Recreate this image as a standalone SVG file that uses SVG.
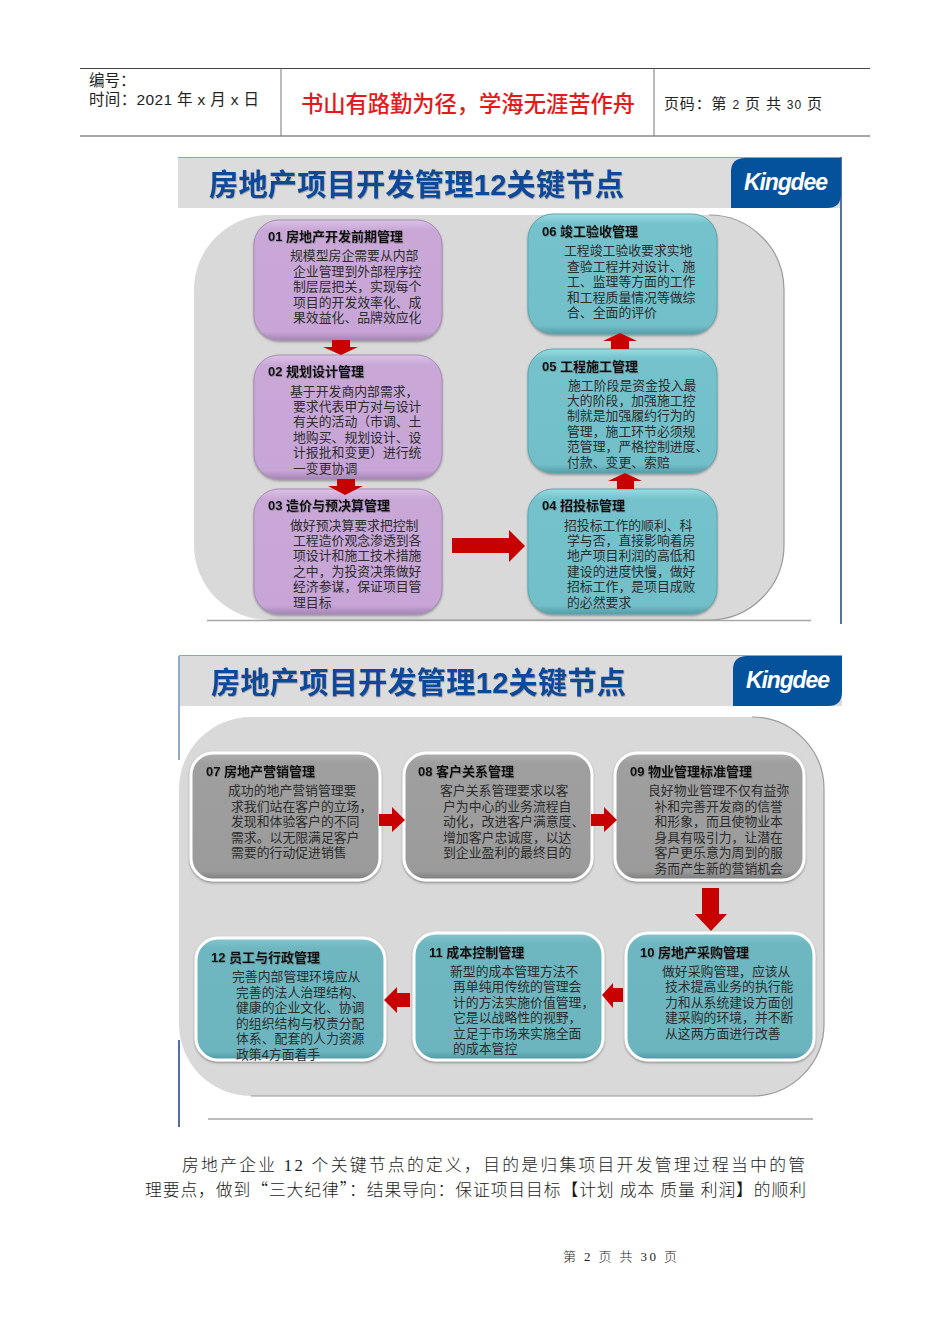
<svg xmlns="http://www.w3.org/2000/svg" width="950" height="1344" viewBox="0 0 950 1344">
<style>
text{font-family:"Liberation Sans","Noto Sans CJK SC",sans-serif}
.hd{font-size:15.5px;fill:#222}
.hd2{font-size:15px;fill:#222}
.motto{font-size:22.3px;fill:#e3191c;font-weight:500}
.title{font-size:29.2px;font-weight:700;fill:#0c4a98;filter:url(#ts)}
.kd{font-size:23px;font-weight:700;font-style:italic;fill:#fff}
.h{font-size:13px;font-weight:700;fill:#111;filter:url(#ts)}
.b{font-size:12.85px;fill:#2c2c2c}
.para{font-size:16.8px;fill:#1a1a1a;font-family:"Liberation Serif","Noto Sans CJK SC",serif;font-weight:300}
.cjk{font-family:"Noto Sans CJK SC",sans-serif}
.foot{font-size:13px;fill:#222;font-family:"Liberation Serif","Noto Sans CJK SC",serif;font-weight:300}
.band{fill:#dcdcdc}
.panel{fill:#d9d9d9}
.edge{fill:none;stroke:#9a9a9a;stroke-width:1.2}
.rule{stroke:#a6a6a6;stroke-width:1.5;fill:none}
.pur{fill:url(#gp);stroke:#a98cb6;stroke-width:1;filter:url(#sh)}
.tea{fill:url(#gt);stroke:#5ea6b0;stroke-width:1;filter:url(#sh)}
.gry{fill:url(#gg);stroke:#fff;stroke-width:3;filter:url(#sh)}
.tew{fill:url(#gw);stroke:#fff;stroke-width:3;filter:url(#sh)}
.arr{fill:#c70000}
</style>
<defs>
<linearGradient id="gp" x1="0" y1="0" x2="0" y2="1"><stop offset="0" stop-color="#dcc2e6"/><stop offset=".08" stop-color="#c9a8d8"/><stop offset=".93" stop-color="#c7a5d6"/><stop offset="1" stop-color="#a785b6"/></linearGradient>
<linearGradient id="gt" x1="0" y1="0" x2="0" y2="1"><stop offset="0" stop-color="#9adbe2"/><stop offset=".08" stop-color="#74c2cc"/><stop offset=".93" stop-color="#72bfc9"/><stop offset="1" stop-color="#559da8"/></linearGradient>
<linearGradient id="gg" x1="0" y1="0" x2="0" y2="1"><stop offset="0" stop-color="#b0b0b0"/><stop offset=".08" stop-color="#9f9f9f"/><stop offset=".93" stop-color="#9b9b9b"/><stop offset="1" stop-color="#7d7d7d"/></linearGradient>
<linearGradient id="gw" x1="0" y1="0" x2="0" y2="1"><stop offset="0" stop-color="#86c6ce"/><stop offset=".08" stop-color="#6eb7c1"/><stop offset=".93" stop-color="#6cb5bf"/><stop offset="1" stop-color="#4f97a2"/></linearGradient>
<filter id="sh" x="-5%" y="-5%" width="110%" height="112%"><feDropShadow dx="0" dy="1.5" stdDeviation="1.2" flood-color="#555" flood-opacity=".55"/></filter>
<filter id="ts" x="-3%" y="-10%" width="106%" height="125%"><feDropShadow dx=".6" dy=".8" stdDeviation=".6" flood-color="#444" flood-opacity=".45"/></filter>
</defs>

<g id="page-header">
<path d="M80 68.5H870" stroke="#444" stroke-width="1" fill="none"/>
<path d="M80 136H870" stroke="#888" stroke-width="1.6" fill="none"/>
<path d="M281 68.500V136M654 68.500V136" stroke="#777" stroke-width="1" fill="none"/>
<text class="hd" x="89" y="86">编号：</text>
<text class="hd" x="89" y="105" textLength="170">时间：2021 年 x 月 x 日</text>
<text class="motto" x="301" y="112" textLength="334">书山有路勤为径，学海无涯苦作舟</text>
<text class="hd2" x="664" y="109" textLength="158">页码：第 <tspan font-size="12">2</tspan> 页  共 <tspan font-size="12">30</tspan> 页</text>
</g>

<g id="slide-1-frame">
<rect class="band" x="178" y="157" width="663" height="51"/>
<path d="M178 157.500H841" stroke="#8ea3bd" stroke-width="1" fill="none"/>
<path d="M841 157V624" stroke="#5b7196" stroke-width="2" fill="none"/>
<rect class="panel" x="194" y="215" width="590" height="405" rx="75" ry="75"/>
<path class="edge" d="M709 215A75 75 0 0 1 784 290V545A75 75 0 0 1 709 620H269"/>
<path class="rule" d="M207 620.500H811"/>
<text class="title" x="209" y="195" textLength="415">房地产项目开发管理12关键节点</text>
<path d="M731 208V172Q731 158 745 158H841V194Q841 208 827 208Z" fill="#03529b"/>
<text class="kd" x="744" y="189.500" textLength="84">Kingdee</text>
</g>

<g id="slide-2-frame">
<rect class="band" x="179" y="656" width="663" height="50"/>
<path d="M179 655.500H842" stroke="#8ea3bd" stroke-width="1" fill="none"/>
<path d="M179 656V760" stroke="#8fa9d0" stroke-width="2" fill="none"/>
<path d="M179 1040V1127" stroke="#4f6fa5" stroke-width="2" fill="none"/>
<rect class="panel" x="179" y="717" width="645" height="379" rx="72" ry="72"/>
<path class="edge" d="M752 717A72 72 0 0 1 824 789V1024A72 72 0 0 1 752 1096H251"/>
<path class="rule" d="M208 1119H813"/>
<text class="title" x="211" y="693" textLength="415">房地产项目开发管理12关键节点</text>
<path d="M733 706V670Q733 656 747 656H842V692Q842 706 828 706Z" fill="#03529b"/>
<text class="kd" x="746" y="687.500" textLength="84">Kingdee</text>
</g>

<g id="node-01"><rect class="pur" x="254" y="220" width="188" height="120" rx="25"/>
<text class="h" x="268" y="241">01 房地产开发前期管理</text>
<text class="b"><tspan x="290" y="260">规模型房企需要从内部</tspan><tspan x="293" y="275.500">企业管理到外部程序控</tspan><tspan x="293" y="291">制层层把关，实现每个</tspan><tspan x="293" y="306.500">项目的开发效率化、成</tspan><tspan x="293" y="322">果效益化、品牌效应化</tspan></text></g>

<g id="node-02"><rect class="pur" x="254" y="355" width="188" height="124" rx="25"/>
<text class="h" x="268" y="376">02 规划设计管理</text>
<text class="b"><tspan x="290" y="395.500">基于开发商内部需求，</tspan><tspan x="293" y="410.500">要求代表甲方对与设计</tspan><tspan x="293" y="426">有关的活动（市调、土</tspan><tspan x="293" y="441.500">地购买、规划设计、设</tspan><tspan x="293" y="457">计报批和变更）进行统</tspan><tspan x="293" y="472.500">一变更协调</tspan></text></g>

<g id="node-03"><rect class="pur" x="254" y="489" width="188" height="125" rx="25"/>
<text class="h" x="268" y="510">03 造价与预决算管理</text>
<text class="b"><tspan x="290" y="529.500">做好预决算要求把控制</tspan><tspan x="293" y="544.500">工程造价观念渗透到各</tspan><tspan x="293" y="560">项设计和施工技术措施</tspan><tspan x="293" y="575.500">之中，为投资决策做好</tspan><tspan x="293" y="591">经济参谋，保证项目管</tspan><tspan x="293" y="606.500">理目标</tspan></text></g>

<g id="node-04"><rect class="tea" x="528" y="489" width="189" height="125" rx="25"/>
<text class="h" x="542" y="510">04 招投标管理</text>
<text class="b"><tspan x="564" y="529.500">招投标工作的顺利、科</tspan><tspan x="567" y="544.500">学与否，直接影响着房</tspan><tspan x="567" y="560">地产项目利润的高低和</tspan><tspan x="567" y="575.500">建设的进度快慢，做好</tspan><tspan x="567" y="591">招标工作，是项目成败</tspan><tspan x="567" y="606.500">的必然要求</tspan></text></g>

<g id="node-05"><rect class="tea" x="528" y="349" width="189" height="124" rx="25"/>
<text class="h" x="542" y="371">05 工程施工管理</text>
<text class="b"><tspan x="568" y="389.500">施工阶段是资金投入最</tspan><tspan x="567" y="404.500">大的阶段，加强施工控</tspan><tspan x="567" y="420">制就是加强履约行为的</tspan><tspan x="567" y="435.500">管理，施工环节必须规</tspan><tspan x="567" y="451">范管理，严格控制进度、</tspan><tspan x="567" y="466.500">付款、变更、索赔</tspan></text></g>

<g id="node-06"><rect class="tea" x="528" y="214" width="189" height="120" rx="25"/>
<text class="h" x="542" y="236">06 竣工验收管理</text>
<text class="b"><tspan x="564" y="255">工程竣工验收要求实地</tspan><tspan x="567" y="270.500">查验工程并对设计、施</tspan><tspan x="567" y="286">工、监理等方面的工作</tspan><tspan x="567" y="301.500">和工程质量情况等做综</tspan><tspan x="567" y="317">合、全面的评价</tspan></text></g>

<g id="node-07"><rect class="gry" x="191" y="753" width="189" height="127" rx="22"/>
<text class="h" x="206" y="776">07 房地产营销管理</text>
<text class="b"><tspan x="228" y="795">成功的地产营销管理要</tspan><tspan x="231" y="810.500">求我们站在客户的立场，</tspan><tspan x="231" y="826">发现和体验客户的不同</tspan><tspan x="231" y="841.500">需求。以无限满足客户</tspan><tspan x="231" y="857">需要的行动促进销售</tspan></text></g>

<g id="node-08"><rect class="gry" x="404" y="753" width="188" height="127" rx="22"/>
<text class="h" x="418" y="776">08 客户关系管理</text>
<text class="b"><tspan x="440" y="795">客户关系管理要求以客</tspan><tspan x="443" y="810.500">户为中心的业务流程自</tspan><tspan x="443" y="826">动化，改进客户满意度、</tspan><tspan x="443" y="841.500">增加客户忠诚度，以达</tspan><tspan x="443" y="857">到企业盈利的最终目的</tspan></text></g>

<g id="node-09"><rect class="gry" x="615" y="753" width="189" height="127" rx="22"/>
<text class="h" x="630" y="776">09 物业管理标准管理</text>
<text class="b"><tspan x="648" y="795">良好物业管理不仅有益弥</tspan><tspan x="654.500" y="810.500">补和完善开发商的信誉</tspan><tspan x="654.500" y="826">和形象，而且使物业本</tspan><tspan x="654.500" y="841.500">身具有吸引力，让潜在</tspan><tspan x="654.500" y="857">客户更乐意为周到的服</tspan><tspan x="654.500" y="872.500">务而产生新的营销机会</tspan></text></g>

<g id="node-10"><rect class="tew" x="626" y="933" width="188" height="127" rx="22"/>
<text class="h" x="640" y="956.500">10 房地产采购管理</text>
<text class="b"><tspan x="662" y="975.500">做好采购管理，应该从</tspan><tspan x="665" y="991">技术提高业务的执行能</tspan><tspan x="665" y="1006.500">力和从系统建设方面创</tspan><tspan x="665" y="1022">建采购的环境，并不断</tspan><tspan x="665" y="1037.500">从这两方面进行改善</tspan></text></g>

<g id="node-11"><rect class="tew" x="414" y="933" width="189" height="127" rx="22"/>
<text class="h" x="429" y="956.500">11 成本控制管理</text>
<text class="b"><tspan x="450" y="975.500">新型的成本管理方法不</tspan><tspan x="453" y="991">再单纯用传统的管理会</tspan><tspan x="453" y="1006.500">计的方法实施价值管理，</tspan><tspan x="453" y="1022">它是以战略性的视野，</tspan><tspan x="453" y="1037.500">立足于市场来实施全面</tspan><tspan x="453" y="1053">的成本管控</tspan></text></g>

<g id="node-12"><rect class="tew" x="196" y="938" width="189" height="122" rx="22"/>
<text class="h" x="211" y="961.500">12 员工与行政管理</text>
<text class="b"><tspan x="232" y="981">完善内部管理环境应从</tspan><tspan x="236" y="996.500">完善的法人治理结构、</tspan><tspan x="236" y="1012">健康的企业文化、协调</tspan><tspan x="236" y="1027.500">的组织结构与权责分配</tspan><tspan x="236" y="1043">体系、配套的人力资源</tspan><tspan x="236" y="1058.500">政策4方面着手</tspan></text></g>

<g id="connectors">
<polygon class="arr" points="332,340 350,340 350,347 358,347 341,355 323,347 332,347"/>
<polygon class="arr" points="337,479 355,479 355,486 363,486 345,495 328,486 337,486"/>
<polygon class="arr" points="452,538 509,538 509,530 525,546 509,562 509,553 452,553"/>
<polygon class="arr" points="617,489 634,489 634,481 642,481 625,473 608,481 617,481"/>
<polygon class="arr" points="611,349 629,349 629,341 637,341 620,333 603,341 611,341"/>
<polygon class="arr" points="379,814 392,814 392,807 405,820 392,832 392,826 379,826"/>
<polygon class="arr" points="591,814 604,814 604,807 617,820 604,832 604,826 591,826"/>
<polygon class="arr" points="702,888 719,888 719,914 727,914 711,931 695,914 702,914"/>
<polygon class="arr" points="623,988 613,988 613,983 602,995 613,1008 613,1002 623,1002"/>
<polygon class="arr" points="410,993 397,993 397,987 384,1000 397,1013 397,1007 410,1007"/>
</g>

<g id="page-body">
<text class="para" x="182" y="1170.500" textLength="623">房地产企业 12 个关键节点的定义，目的是归集项目开发管理过程当中的管</text>
<text class="para" x="145" y="1195.500" textLength="661">理要点，做到<tspan class="cjk">“</tspan>三大纪律<tspan class="cjk">”</tspan>：结果导向：保证项目目标【计划 成本 质量 利润】的顺利</text>
<text class="foot" x="563" y="1261" textLength="114">第 2 页 共 30 页</text>
</g>
</svg>
